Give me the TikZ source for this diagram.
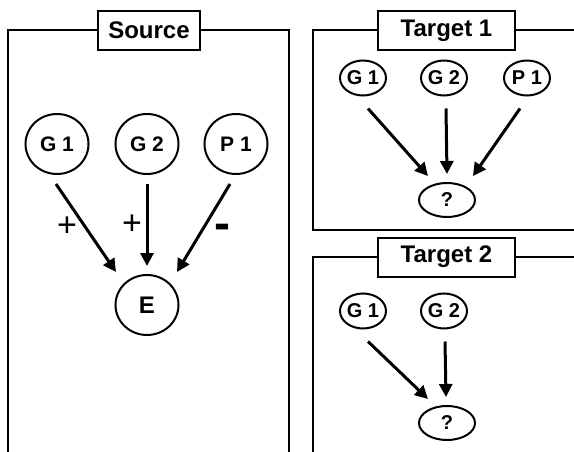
\documentclass[tikz,border=0pt]{standalone}
\usepackage{fontspec}
\setmainfont{Liberation Sans}
\usetikzlibrary{arrows.meta}
\usetikzlibrary{shapes}

\begin{document}
\begin{tikzpicture}[x=1pt, y=-1pt, line width=2pt,
    >={Triangle[length=13pt,width=13pt]},
    title/.style={draw, fill=white, inner sep=0pt, minimum height=39pt, font=\fontsize{24}{24}\selectfont\bfseries},
    gene/.style={draw, ellipse, minimum width=63pt, minimum height=60pt, inner sep=0pt, font=\fontsize{21}{21}\selectfont\bfseries},
    oval/.style={draw, ellipse, minimum width=46pt, minimum height=35pt, inner sep=0pt, font=\fontsize{20}{20}\selectfont\bfseries},
    edge/.style={->, line width=3pt}]
    \useasboundingbox (0,0) rectangle (574,452);
    %% Source
    \draw (149, 30.5) node[title, minimum width=102pt](src){Source} ;
    \draw (8, 452) -- (8, 30.5) -- (src.west) ;
    \draw (src.east) -- (289, 30.5) -- (289, 452) ;
    \draw (57, 144) node[gene](sg1){G 1} ;
    \draw (147, 144) node[gene](sg2){G 2} ;
    \draw (236, 144) node[gene](sp1){P 1} ;
    \draw (147, 305) node[gene, font=\fontsize{24}{24}\selectfont\bfseries](se){E} ;
    \draw[edge] ([shift={(-1,9)}]sg1.south) -- ([shift={(-31,-2)}]se.north) ;
    \draw[edge] ([shift={(0,9)}]sg2.south) -- ([shift={(0,-8)}]se.north) ;
    \draw[edge] ([shift={(-6,9)}]sp1.south) -- ([shift={(30,-2)}]se.north) ;
    \draw (67, 227) node[font=\fontsize{34}{34}\selectfont](plus1){+} ;
    \draw (132, 225) node[font=\fontsize{34}{34}\selectfont](plus2){+} ;
    \draw (222, 232) node[font=\fontsize{48}{48}\selectfont\bfseries](minus){-} ;
    %% Target 1
    \draw (446.5, 30.5) node[title, minimum width=137pt](ta){Target 1} ;
    \draw (574, 230) -- (313, 230) -- (313, 30.5) -- (ta.west) ;
    \draw (ta.east) -- (574, 30.5) ;
    \draw (363, 78) node[oval](ag1){G 1} ;
    \draw (444, 78) node[oval](ag2){G 2} ;
    \draw (527, 78) node[oval](ap1){P 1} ;
    \draw (447, 200) node[oval, minimum width=56pt, minimum height=34pt](aq){?} ;
    \draw[edge] ([shift={(5,12)}]ag1.south) -- ([shift={(-19,-6)}]aq.north) ;
    \draw[edge] ([shift={(2,12)}]ag2.south) -- ([shift={(0,-8)}]aq.north) ;
    \draw[edge] ([shift={(-7,12)}]ap1.south) -- ([shift={(26,-6)}]aq.north) ;
    %% Target 2
    \draw (446.5, 257) node[title, minimum width=137pt](tb){Target 2} ;
    \draw (313, 452) -- (313, 257) -- (tb.west) ;
    \draw (tb.east) -- (574, 257) ;
    \draw (363, 311) node[oval](bg1){G 1} ;
    \draw (444, 311) node[oval](bg2){G 2} ;
    \draw (447, 423) node[oval, minimum width=56pt, minimum height=34pt](bq){?} ;
    \draw[edge] ([shift={(5,12)}]bg1.south) -- ([shift={(-19,-6)}]bq.north) ;
    \draw[edge] ([shift={(1,12)}]bg2.south) -- ([shift={(-1,-8)}]bq.north) ;
\end{tikzpicture}
\end{document}
